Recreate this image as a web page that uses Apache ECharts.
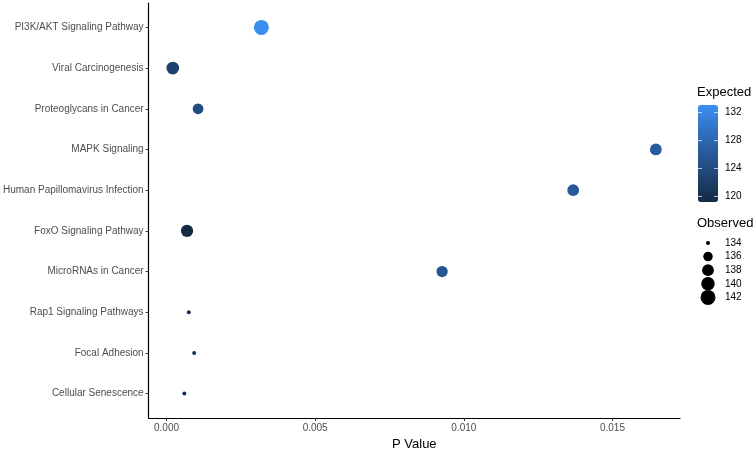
<!DOCTYPE html>
<html>
<head>
<meta charset="utf-8">
<script src="https://cdn.jsdelivr.net/npm/echarts@6/dist/echarts.min.js"></script>
<style>html,body{margin:0;padding:0;background:#fff}#c{width:754px;height:456px}</style>
</head>
<body>
<div id="c"></div>
<script>
const categories = ["PI3K/AKT Signaling Pathway","Viral Carcinogenesis","Proteoglycans in Cancer","MAPK Signaling","Human Papillomavirus Infection","FoxO Signaling Pathway","MicroRNAs in Cancer","Rap1 Signaling Pathways","Focal Adhesion","Cellular Senescence"];
const pValues = [0.00319, 0.00021, 0.00106, 0.01646, 0.01368, 0.00069, 0.00927, 0.00075, 0.00093, 0.00060];
const observed = [142, 139, 137, 138, 138, 138.5, 137.5, 134, 134, 134];
const expected = [133.1, 122.5, 124, 126.5, 126, 119.2, 125.5, 120, 120, 120];
const xTicks = [0, 0.005, 0.010, 0.015];
const expectedBreaks = [132, 128, 124, 120];
const observedBreaks = [134, 136, 138, 140, 142];

const FONT = "Liberation Sans";
const obsMin = 134, obsMax = 142;
function sizeOf(v){ const t = Math.max(0, Math.min(1, (v - obsMin)/(obsMax - obsMin))); return 4 + 11*Math.sqrt(t); }
const expMin = Math.min(...expected), expMax = Math.max(...expected);
const colors = ['#132B43', '#28599A', '#3A8EF0'];

const data = categories.map((c,i)=>[pValues[i], i, observed[i], expected[i]]);
const chart = echarts.init(document.getElementById('c'));

const barLeft = 698, barTop = 105, barW = 20, barH = 97;
const graphics = [];
graphics.push({type:'text', left:697, top:86, style:{text:'Expected', font:'13px "'+FONT+'"', fill:'#000'}});
expectedBreaks.forEach(v=>{
  const y = barTop + (expMax - v)/(expMax - expMin)*barH;
  graphics.push({type:'text', left:725, top:y-5, style:{text:String(v), font:'10px "'+FONT+'"', fill:'#000'}});
  graphics.push({type:'line', shape:{x1:barLeft, y1:y, x2:barLeft+4, y2:y}, style:{stroke:'rgba(255,255,255,0.7)', lineWidth:1}, z:100});
  graphics.push({type:'line', shape:{x1:barLeft+barW-4, y1:y, x2:barLeft+barW, y2:y}, style:{stroke:'rgba(255,255,255,0.7)', lineWidth:1}, z:100});
});
graphics.push({type:'text', left:697, top:217, style:{text:'Observed', font:'13px "'+FONT+'"', fill:'#000'}});
observedBreaks.forEach((v,i)=>{
  const y = 243 + i*13.6;
  graphics.push({type:'circle', shape:{cx:708, cy:y, r:sizeOf(v)/2}, style:{fill:'#000'}});
  graphics.push({type:'text', left:725, top:y-5, style:{text:String(v), font:'10px "'+FONT+'"', fill:'#000'}});
});

chart.setOption({
  animation:false,
  grid:{left:146, right:74, top:3, bottom:30, containLabel:false},
  xAxis:{
    type:'value',
    min: v => v.min - 0.05*(v.max - v.min),
    max: v => v.max + 0.05*(v.max - v.min),
    name:'P Value', nameLocation:'middle', nameGap:20,
    nameTextStyle:{fontFamily:FONT, fontSize:13, color:'#000'},
    axisLine:{show:true, onZero:false, lineStyle:{color:'#000', width:1.2}},
    axisTick:{show:true, length:3, customValues:xTicks, lineStyle:{color:'#333'}},
    axisLabel:{customValues:xTicks, formatter: v => v.toFixed(3), fontFamily:FONT, fontSize:10, color:'#4d4d4d', margin:5},
    splitLine:{show:false}
  },
  yAxis:{
    type:'value', inverse:true, min:-0.6, max:categories.length - 1 + 0.6,
    axisLine:{show:true, onZero:false, lineStyle:{color:'#000', width:1.2}},
    axisTick:{show:true, length:3, customValues:categories.map((c,i)=>i), lineStyle:{color:'#333'}},
    axisLabel:{customValues:categories.map((c,i)=>i), formatter: v => categories[Math.round(v)] || '', fontFamily:FONT, fontSize:10, color:'#4d4d4d', margin:5},
    splitLine:{show:false}
  },
  visualMap:{
    type:'continuous', dimension:3, min:expMin, max:expMax,
    inRange:{color:colors}, calculable:false, text:null, showLabel:false,
    left:barLeft, top:barTop, itemWidth:barW, itemHeight:barH, padding:0, seriesIndex:0
  },
  series:[{
    type:'scatter', data:data,
    symbolSize: d => sizeOf(d[2]),
    itemStyle:{opacity:1}
  }],
  graphic: graphics
});
</script>
</body>
</html>
